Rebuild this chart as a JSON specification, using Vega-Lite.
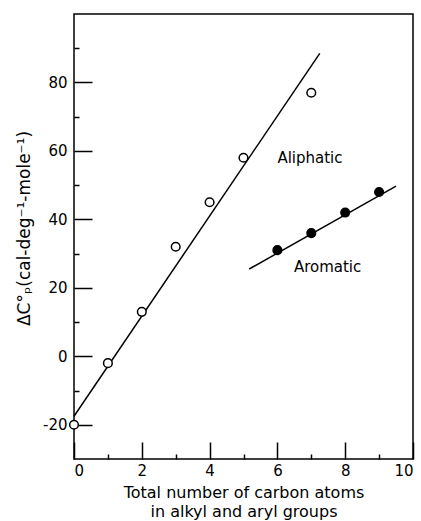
{
  "$schema": "https://vega.github.io/schema/vega-lite/v6.json",
  "width": 339,
  "height": 445,
  "autosize": {"type": "none"},
  "padding": {"left": 74, "top": 14, "right": 8, "bottom": 62},
  "config": {
    "view": {"stroke": "black", "strokeWidth": 1.5},
    "font": "DejaVu Sans",
    "axis": {"grid": false, "domain": false, "tickColor": "black", "tickWidth": 1.5, "labelColor": "black", "titleColor": "black", "labelFont": "DejaVu Sans", "titleFont": "DejaVu Sans", "labelFontSize": 15, "titleFontSize": 15, "titleFontWeight": "normal"}
  },
  "datasets": {
    "points": [
      {"n": 0, "cp": -20, "group": "Aliphatic"},
      {"n": 1, "cp": -2, "group": "Aliphatic"},
      {"n": 2, "cp": 13, "group": "Aliphatic"},
      {"n": 3, "cp": 32, "group": "Aliphatic"},
      {"n": 4, "cp": 45, "group": "Aliphatic"},
      {"n": 5, "cp": 58, "group": "Aliphatic"},
      {"n": 7, "cp": 77, "group": "Aliphatic"},
      {"n": 6, "cp": 31, "group": "Aromatic"},
      {"n": 7, "cp": 36, "group": "Aromatic"},
      {"n": 8, "cp": 42, "group": "Aromatic"},
      {"n": 9, "cp": 48, "group": "Aromatic"}
    ],
    "fits": [
      {"n": 0, "cp": -17.5, "group": "Aliphatic"},
      {"n": 7.25, "cp": 88.5, "group": "Aliphatic"},
      {"n": 5.17, "cp": 25.5, "group": "Aromatic"},
      {"n": 9.5, "cp": 49.7, "group": "Aromatic"}
    ],
    "labels": [
      {"n": 6.96, "cp": 58, "label": "Aliphatic"},
      {"n": 7.48, "cp": 26, "label": "Aromatic"}
    ]
  },
  "resolve": {"axis": {"x": "independent", "y": "independent"}},
  "layer": [
    {
      "data": {"name": "fits"},
      "mark": {"type": "line", "color": "black", "strokeWidth": 1.5},
      "encoding": {
        "x": {"field": "n", "type": "quantitative", "scale": {"domain": [0, 10], "nice": false},
          "axis": {"orient": "bottom", "values": [0, 2, 4, 6, 8, 10], "offset": -17, "tickSize": 17, "labelPadding": 4, "labelExpr": "replace(datum.label, '−', '-')", "title": ["Total  number of carbon atoms", "in alkyl and aryl  groups"], "titleY": 55, "titleBaseline": "alphabetic", "titleLineHeight": 19, "titleFontSize": 16}},
        "y": {"field": "cp", "type": "quantitative", "scale": {"domain": [-30, 100], "nice": false, "zero": false},
          "axis": {"orient": "left", "values": [-20, 0, 20, 40, 60, 80], "offset": -18, "tickSize": 18, "labelPadding": 7, "labelExpr": "replace(datum.label, '−', '-')", "title": "ΔC°ₚ(cal-deg⁻¹-mole⁻¹)", "titleX": -68, "titleY": 214, "titleAngle": -90, "titleAlign": "center", "titleBaseline": "middle", "titleFontSize": 17}},
        "detail": {"field": "group"}
      }
    },
    {
      "data": {"name": "points"},
      "mark": {"type": "point", "shape": "circle", "size": 75, "stroke": "black", "strokeWidth": 1.5, "opacity": 1},
      "encoding": {
        "x": {"field": "n", "type": "quantitative", "axis": {"orient": "bottom", "values": [1, 3, 5, 7, 9], "offset": -5, "tickSize": 5, "labels": false, "title": null}},
        "y": {"field": "cp", "type": "quantitative", "axis": {"orient": "left", "values": [-10, 10, 30, 50, 70, 90], "offset": -5, "tickSize": 5, "labels": false, "title": null}},
        "fill": {"field": "group", "type": "nominal", "scale": {"domain": ["Aliphatic", "Aromatic"], "range": ["white", "black"]}, "legend": null}
      }
    },
    {
      "data": {"name": "labels"},
      "mark": {"type": "text", "fontSize": 15, "color": "black", "align": "center", "baseline": "middle"},
      "encoding": {
        "x": {"field": "n", "type": "quantitative", "axis": null},
        "y": {"field": "cp", "type": "quantitative", "axis": null},
        "text": {"field": "label"}
      }
    }
  ]
}
